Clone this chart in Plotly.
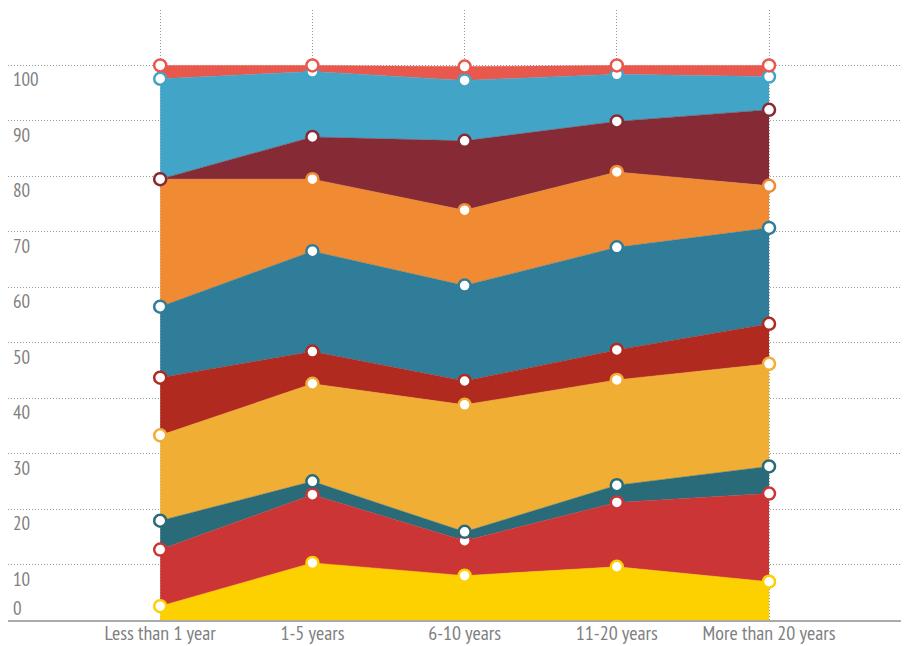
import plotly.graph_objs as go

categories = ['Less than 1 year', '1-5 years', '6-10 years', '11-20 years', 'More than 20 years']

# share of each group per category (stacked bottom to top)
s1 = [2.5, 10.3, 8.0, 9.6, 6.9]
s2 = [10.2, 12.3, 6.3, 11.6, 15.9]
s3 = [5.2, 2.4, 1.6, 3.1, 4.9]
s4 = [15.4, 17.6, 22.9, 19.0, 18.5]
s5 = [10.4, 5.8, 4.3, 5.4, 7.2]
s6 = [12.8, 18.1, 17.2, 18.5, 17.3]
s7 = [23.0, 13.0, 13.6, 13.6, 7.6]
s8 = [0.0, 7.6, 12.5, 9.1, 13.7]
s9 = [18.1, 11.8, 10.9, 8.5, 6.0]
s10 = [2.4, 1.1, 2.5, 1.6, 2.0]

series = [s1, s2, s3, s4, s5, s6, s7, s8, s9, s10]
colors = ['#fdd000', '#cc3535', '#2a6b7a', '#f0ae35', '#b02a20',
          '#2f7d99', '#f08a33', '#862a35', '#42a4c6', '#e8584d']
y_ticks = [0, 10, 20, 30, 40, 50, 60, 70, 80, 90, 100]

fig = go.Figure()
for vals, col in zip(series, colors):
    fig.add_trace(go.Scatter(
        x=categories, y=vals, stackgroup='one', mode='lines+markers',
        line=dict(color=col, width=0.5),
        fillcolor=col,
        marker=dict(size=12, color='white', line=dict(color=col, width=2.5)),
        showlegend=False))

font_name = 'Liberation Sans Narrow, PT Sans Narrow, Arial Narrow, sans-serif'
annots = []
for t in y_ticks:
    annots.append(dict(x=0, xref='paper', y=t, yref='y', text=str(t),
                       showarrow=False, xanchor='left', yanchor='middle',
                       xshift=3, yshift=(12 if t == 0 else -14),
                       font=dict(family=font_name, size=19, color='#808080')))

# page body has an 8px margin, so the figure is shrunk to fit the window
fig.update_layout(
    width=901, height=638,
    margin=dict(l=0, r=3, t=2, b=26),
    plot_bgcolor='white', paper_bgcolor='white',
    annotations=annots,
    xaxis=dict(range=[-1, 4.9], showgrid=True, gridcolor='#999999', griddash='1px,2px', gridwidth=1,
               showline=True, linecolor='#aaaaaa', linewidth=2, ticks='', zeroline=False,
               automargin=False, ticklabelstandoff=-6,
               tickfont=dict(family=font_name, size=20, color='#808080')),
    yaxis=dict(range=[0, 110], tickvals=y_ticks[1:], showticklabels=False, showgrid=True,
               gridcolor='#999999', griddash='1px,2px', gridwidth=1, zeroline=False,
               automargin=False,
               showline=True, linecolor='#aaaaaa', linewidth=2, ticks=''),
)

fig.write_html('out.html')
